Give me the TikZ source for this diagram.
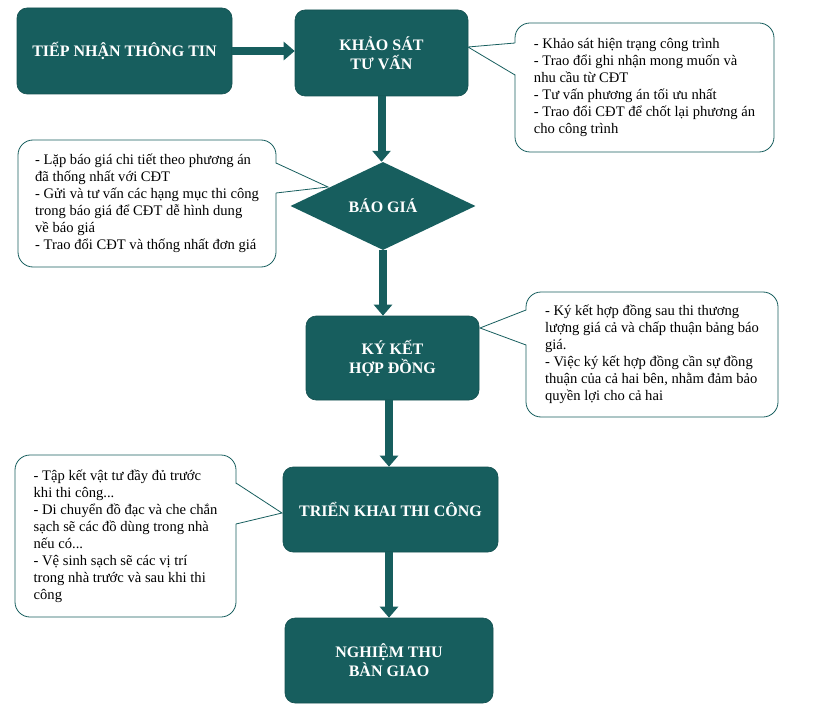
\documentclass[tikz,border=0pt]{standalone}
\usepackage{fontspec}
\setmainfont{Liberation Serif}
\usetikzlibrary{arrows.meta,shapes.geometric}
\definecolor{xanhdam}{RGB}{23,94,94}

\begin{document}
\begin{tikzpicture}[x=1pt,y=-1pt,
    buoc/.style = {fill=xanhdam, draw=xanhdam!85!black, line width=0.6pt, rounded corners=10pt, text=white, font=\fontsize{16}{19}\selectfont\bfseries, align=center, inner sep=0pt},
    thoai/.style = {draw=xanhdam, line width=0.8pt, fill=white, rounded corners=15pt, align=left, font=\fontsize{14.6}{17}\selectfont, inner sep=0pt},
    muiten/.style = {draw=xanhdam, line width=8pt, -{Triangle[width=18pt,length=11pt]}},
    duoi/.style = {draw=xanhdam, line width=0.8pt}]
    \useasboundingbox (0,0) rectangle (824,727);
    % cac buoc chinh
    \node[buoc, minimum width=215pt, minimum height=86pt] (tiepnhan) at (124.5,51) {TIẾP NHẬN THÔNG TIN};
    \node[buoc, minimum width=173pt, minimum height=86pt] (khaosat) at (381.5,53) {KHẢO SÁT\\TƯ VẤN};
    \node[shape=diamond, aspect=2.1, fill=xanhdam, minimum width=185pt, minimum height=88pt, inner sep=0pt, text=white, font=\fontsize{16}{19}\selectfont\bfseries] (baogia) at (383,206) {BÁO GIÁ};
    \node[buoc, minimum width=173pt, minimum height=84pt] (kyket) at (392.5,358) {KÝ KẾT\\HỢP ĐỒNG};
    \node[buoc, minimum width=215pt, minimum height=85pt] (trienkhai) at (390.5,509.5) {TRIỂN KHAI THI CÔNG};
    \node[buoc, minimum width=208pt, minimum height=85pt] (nghiemthu) at (389,660.5) {NGHIỆM THU\\BÀN GIAO};
    % mui ten
    \draw[muiten] (tiepnhan.east) -- (tiepnhan.east -| khaosat.west);
    \draw[muiten] (khaosat.south) -- (khaosat.south |- baogia.north);
    \draw[muiten] (baogia.south) -- (baogia.south |- kyket.north);
    \draw[muiten] (kyket.south -| nghiemthu.north) -- (trienkhai.north -| nghiemthu.north);
    \draw[muiten] (trienkhai.south -| nghiemthu.north) -- (nghiemthu.north);
    % ghi chu
    \node[thoai, minimum width=259pt, minimum height=129pt] (ghichu1) at (644.5,87.5) {- Khảo sát hiện trạng công trình\\- Trao đổi ghi nhận mong muốn và\\nhu cầu từ CĐT\\- Tư vấn phương án tối ưu nhất\\- Trao đổi CĐT để chốt lại phương án\\cho công trình};
    \node[thoai, minimum width=258pt, minimum height=127pt] (ghichu2) at (147,203.5) {- Lặp báo giá chi tiết theo phương án\\đã thống nhất với CĐT\\- Gửi và tư vấn các hạng mục thi công\\trong báo giá để CĐT dễ hình dung\\về báo giá\\- Trao đổi CĐT và thống nhất đơn giá};
    \node[thoai, minimum width=252pt, minimum height=125pt] (ghichu3) at (652,354.5) {- Ký kết hợp đồng sau thi thương\\lượng giá cả và chấp thuận bảng báo\\giá.\\- Việc ký kết hợp đồng cần sự đồng\\thuận của cả hai bên, nhằm đảm bảo\\quyền lợi cho cả hai};
    \node[thoai, minimum width=221pt, minimum height=162pt] (ghichu4) at (125.5,536) {- Tập kết vật tư đầy đủ trước\\khi thi công...\\- Di chuyển đồ đạc và che chắn\\sạch sẽ các đồ dùng trong nhà\\nếu có...\\- Vệ sinh sạch sẽ các vị trí\\trong nhà trước và sau khi thi\\công};
    % duoi ghi chu
    \coordinate (d1a) at (515,43);  \coordinate (d1b) at (515,75);  \coordinate (m1) at (468,47);
    \coordinate (d2a) at (276,163); \coordinate (d2b) at (276,193); \coordinate (m2) at (328,187);
    \coordinate (d3a) at (526,310); \coordinate (d3b) at (526,345); \coordinate (m3) at (480,328);
    \coordinate (d4a) at (236,483); \coordinate (d4b) at (236,524); \coordinate (m4) at (282,513);
    \fill[white] ([xshift=1.5pt]d1a) -- (m1) -- ([xshift=1.5pt]d1b) -- cycle;
    \fill[white] ([xshift=-1.5pt]d2a) -- (m2) -- ([xshift=-1.5pt]d2b) -- cycle;
    \fill[white] ([xshift=1.5pt]d3a) -- (m3) -- ([xshift=1.5pt]d3b) -- cycle;
    \fill[white] ([xshift=-1.5pt]d4a) -- (m4) -- ([xshift=-1.5pt]d4b) -- cycle;
    \draw[duoi] (d1a) -- (m1) -- (d1b);
    \draw[duoi] (d2a) -- (m2) -- (d2b);
    \draw[duoi] (d3a) -- (m3) -- (d3b);
    \draw[duoi] (d4a) -- (m4) -- (d4b);
\end{tikzpicture}
\end{document}
